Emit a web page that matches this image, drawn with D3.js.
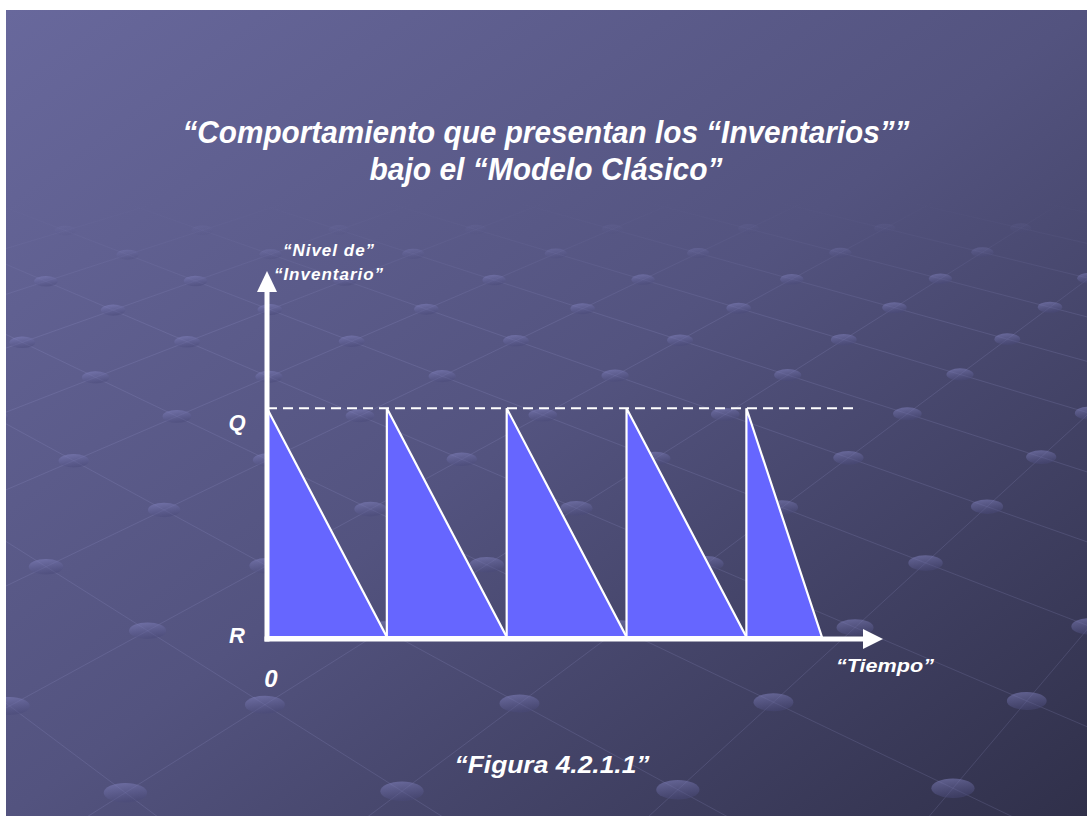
<!DOCTYPE html>
<html>
<head>
<meta charset="utf-8">
<script src="https://cdn.jsdelivr.net/npm/d3@7"></script>
<style>
  html, body { margin: 0; padding: 0; background: #ffffff; }
  svg { display: block; }
  text { font-family: "Liberation Sans", Arial, sans-serif; font-weight: bold; font-style: italic; fill: #ffffff; }
</style>
</head>
<body>
<svg id="chart" width="1087" height="816"></svg>
<script>
// ---------------- data ----------------
const titleLines = ["\u201cComportamiento que presentan los \u201cInventarios\u201d\u201d", "bajo el \u201cModelo Cl\u00e1sico\u201d"];
const yAxisTitle = ["\u201cNivel de\u201d", "\u201cInventario\u201d"];
const xAxisTitle = "\u201cTiempo\u201d";
const caption = "\u201cFigura 4.2.1.1\u201d";
const levelNames = ["Q", "R"];
const levelValues = [1, 0];
const originLabel = "0";
const cycleStarts = [0, 1, 2, 3, 4];     // order arrives, stock back at Q
const cycleEnds   = [1, 2, 3, 4, 4.63];  // stock reaches R
const qLineSpan = [0, 4.94];
const timeDomain = [0, 5.14];
const levelDomain = [0, 1.6];

// ---------------- setup ----------------
const svg = d3.select("#chart");
const W = 1087, H = 816;
const slide = { x: 6, y: 10, w: 1081, h: 806 };
const defs = svg.append("defs");

const bg = defs.append("linearGradient").attr("id", "bg")
  .attr("x1", 0).attr("y1", 0).attr("x2", 1).attr("y2", 1);
bg.append("stop").attr("offset", 0).attr("stop-color", "#68689c");
bg.append("stop").attr("offset", 0.5).attr("stop-color", "#53537f");
bg.append("stop").attr("offset", 1).attr("stop-color", "#30304a");

const dotGrad = defs.append("linearGradient").attr("id", "dot")
  .attr("x1", 0).attr("y1", 0).attr("x2", 0.3).attr("y2", 1);
dotGrad.append("stop").attr("offset", 0).attr("stop-color", "#8a8ac8").attr("stop-opacity", 0.55);
dotGrad.append("stop").attr("offset", 1).attr("stop-color", "#4a4a7a").attr("stop-opacity", 0.45);

defs.append("clipPath").attr("id", "slideClip").append("rect")
  .attr("x", slide.x).attr("y", slide.y).attr("width", slide.w).attr("height", slide.h);

svg.append("rect").attr("x", slide.x).attr("y", slide.y)
  .attr("width", slide.w).attr("height", slide.h).attr("fill", "url(#bg)");

// ---------------- decorative perspective floor ----------------
const deco = svg.append("g").attr("clip-path", "url(#slideClip)");
const hy = -320, K = 1120, cx = 560;
const proj = (X, Z) => [cx + X * K / Z, hy + K / Z];
const sc = 1.35;
const va = [0.108 * sc, -0.063 * sc], vb = [0.076 * sc, 0.064 * sc], org = [-0.288, 1.093];
const gp = (i, j) => [org[0] + i * va[0] + j * vb[0], org[1] + i * va[1] + j * vb[1]];
const zMin = 0.9, zMax = 2.3;
const fade = yy => Math.max(0, Math.min(1, (yy - 215) / 70));
function clipSeg(p, q) {
  let t0 = 0, t1 = 1;
  const dz = q[1] - p[1];
  if (Math.abs(dz) < 1e-9) { if (p[1] < zMin || p[1] > zMax) return null; }
  else {
    let ta = (zMin - p[1]) / dz, tb = (zMax - p[1]) / dz;
    if (ta > tb) [ta, tb] = [tb, ta];
    t0 = Math.max(t0, ta); t1 = Math.min(t1, tb);
    if (t0 >= t1) return null;
  }
  return [[p[0] + (q[0] - p[0]) * t0, p[1] + dz * t0], [p[0] + (q[0] - p[0]) * t1, p[1] + dz * t1]];
}
const N = 40;
const segs = [];
for (let k = -N; k <= N; k++) {
  [[gp(k, -N), gp(k, N)], [gp(-N, k), gp(N, k)]].forEach(([p, q]) => {
    const c = clipSeg(p, q);
    if (c) segs.push(c.map(g => proj(g[0], g[1])));
  });
}
const lineGrad = defs.append("linearGradient").attr("id", "lineFade")
  .attr("gradientUnits", "userSpaceOnUse").attr("x1", 0).attr("y1", 200).attr("x2", 0).attr("y2", 320);
lineGrad.append("stop").attr("offset", 0).attr("stop-color", "#a0a0d8").attr("stop-opacity", 0);
lineGrad.append("stop").attr("offset", 1).attr("stop-color", "#a0a0d8").attr("stop-opacity", 0.17);
deco.selectAll("path.floor").data(segs).join("path").attr("class", "floor")
  .attr("d", d => d3.line()(d))
  .attr("stroke", "url(#lineFade)").attr("stroke-width", 1).attr("fill", "none");
const dots = [];
for (let i = -N; i <= N; i++) for (let j = -N; j <= N; j++) {
  const g = gp(i, j);
  if (g[1] < zMin || g[1] > zMax) continue;
  const p = proj(g[0], g[1]);
  if (p[0] < -60 || p[0] > W + 60 || p[1] < 200) continue;
  dots.push({ x: p[0], y: p[1], r: 0.0195 * K / g[1] });
}
deco.selectAll("ellipse.dot").data(dots).join("ellipse").attr("class", "dot")
  .attr("cx", d => d.x).attr("cy", d => d.y)
  .attr("rx", d => d.r).attr("ry", d => d.r * 0.45)
  .attr("fill", "url(#dot)")
  .attr("opacity", d => fade(d.y));

// ---------------- scales ----------------
const x = d3.scaleLinear().domain(timeDomain).range([267, 883]);
const y = d3.scaleLinear().domain(levelDomain).range([637, 271]);

// ---------------- title ----------------
svg.append("text").attr("x", 546).attr("y", 143).attr("text-anchor", "middle")
  .attr("font-size", 31).attr("textLength", 727).attr("lengthAdjust", "spacingAndGlyphs")
  .text(titleLines[0]);
svg.append("text").attr("x", 546).attr("y", 180).attr("text-anchor", "middle")
  .attr("font-size", 31).attr("textLength", 353).attr("lengthAdjust", "spacingAndGlyphs")
  .text(titleLines[1]);

// ---------------- sawtooth triangles ----------------
const cycles = cycleStarts.map((t, i) => ({ start: t, end: cycleEnds[i] }));
svg.append("g").selectAll("path").data(cycles).join("path")
  .attr("d", d => d3.line()([[x(d.start), y(levelValues[0])], [x(d.start), y(levelValues[1])], [x(d.end), y(levelValues[1])]]) + "Z")
  .attr("fill", "#6666ff").attr("stroke", "#ffffff").attr("stroke-width", 2.2)
  .attr("stroke-linejoin", "miter");

// dashed Q line
svg.append("line")
  .attr("x1", x(qLineSpan[0])).attr("x2", x(qLineSpan[1]))
  .attr("y1", y(levelValues[0])).attr("y2", y(levelValues[0]))
  .attr("stroke", "#ffffff").attr("stroke-width", 2).attr("stroke-dasharray", "10,6");

// ---------------- axes with arrows ----------------
const ax0 = x(0), ay0 = y(0);
const yTip = y(levelDomain[1]), xTip = x(timeDomain[1]);
svg.append("line").attr("x1", ax0).attr("x2", ax0).attr("y1", ay0 + 4.5).attr("y2", yTip + 19)
  .attr("stroke", "#ffffff").attr("stroke-width", 5);
svg.append("path").attr("d", d3.line()([[ax0, yTip], [ax0 - 10, yTip + 21], [ax0 + 10, yTip + 21]]) + "Z")
  .attr("fill", "#ffffff");
svg.append("line").attr("x1", ax0 - 2.5).attr("x2", xTip - 19).attr("y1", ay0 + 2).attr("y2", ay0 + 2)
  .attr("stroke", "#ffffff").attr("stroke-width", 5);
svg.append("path").attr("d", d3.line()([[xTip, ay0 + 2], [xTip - 20, ay0 - 8], [xTip - 20, ay0 + 12]]) + "Z")
  .attr("fill", "#ffffff");

// ---------------- labels ----------------
svg.selectAll("text.level").data(levelNames).join("text").attr("class", "level")
  .attr("x", 237).attr("y", (d, i) => y(levelValues[i]) + (i === 0 ? 22 : 6))
  .attr("text-anchor", "middle").attr("font-size", 22).text(d => d);
svg.append("text").attr("x", ax0 + 4).attr("y", 687).attr("text-anchor", "middle")
  .attr("font-size", 24).text(originLabel);

svg.selectAll("text.ytitle").data(yAxisTitle).join("text").attr("class", "ytitle")
  .attr("x", 329).attr("y", (d, i) => 256 + i * 24).attr("text-anchor", "middle")
  .attr("font-size", 17).attr("letter-spacing", 1).text(d => d);

svg.append("text").attr("x", 885).attr("y", 672).attr("text-anchor", "middle")
  .attr("font-size", 18).attr("textLength", 98).attr("lengthAdjust", "spacingAndGlyphs")
  .text(xAxisTitle);

svg.append("text").attr("x", 552).attr("y", 773).attr("text-anchor", "middle")
  .attr("font-size", 24).attr("textLength", 195).attr("lengthAdjust", "spacingAndGlyphs")
  .text(caption);
</script>
</body>
</html>
